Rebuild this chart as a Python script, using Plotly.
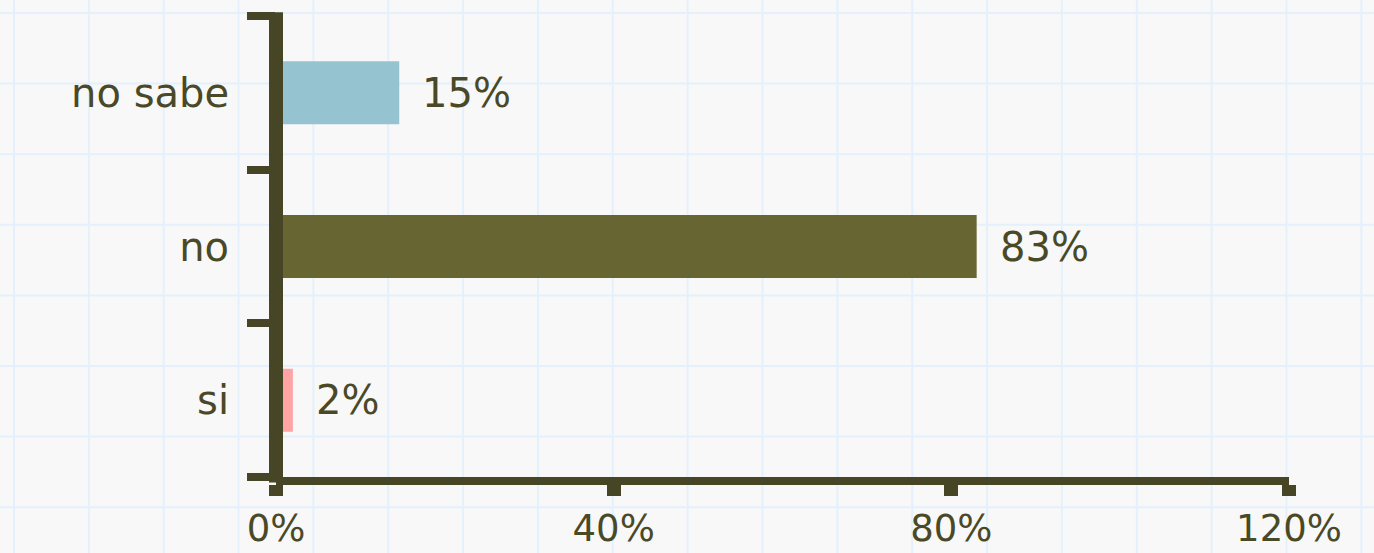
import plotly.graph_objects as go

# ---- data ----
categories = ["si", "no", "no sabe"]
values = [2, 83, 14.6]
bar_colors = ["#ffa4a4", "#676532", "#95c4d0"]
x_ticks = [0, 40, 80, 120]
x_tick_text = [f"{v}%" for v in x_ticks]

# ---- style ----
W, H = 1374, 553
L, R, T, B = 276, 85, 16, 76
INK = "#464525"
TXT = "#4a4927"
BG = "#f8f8f8"
FONT = "DejaVu Sans"
FS = 40

fig = go.Figure()
fig.add_trace(go.Bar(
    y=categories, x=values, orientation="h",
    marker=dict(color=bar_colors, line=dict(width=0)),
    width=0.41, hoverinfo="skip",
))

# value labels
for c, v in zip(categories, values):
    fig.add_annotation(x=v, y=c, xref="x", yref="y", text=f"{v:.0f}%",
                       showarrow=False, xanchor="left", xshift=21,
                       font=dict(family=FONT, size=FS, color=TXT))

# graph-paper background
pw, ph = W - L - R, H - T - B
shapes = []
gx = 14.0
while gx < W:
    shapes.append(dict(type="line", xref="paper", yref="paper",
                       x0=(gx - L) / pw, x1=(gx - L) / pw,
                       y0=(H - B) / ph, y1=(H - B - H) / ph,
                       line=dict(color="#e4f1fc", width=2), layer="below"))
    gx += 74.85
gy = 13.0
while gy < H:
    shapes.append(dict(type="line", xref="paper", yref="paper",
                       x0=(0 - L) / pw, x1=(W - L) / pw,
                       y0=(H - B - gy) / ph, y1=(H - B - gy) / ph,
                       line=dict(color="#e4f1fc", width=2), layer="below"))
    gy += 70.6
# y axis line centred on the left edge (x = 0)
shapes.append(dict(type="line", xref="paper", yref="paper", x0=0, x1=0,
                   y0=-0.012, y1=1.008, line=dict(color=INK, width=14), layer="above"))

fig.update_layout(
    width=W, height=H,
    margin=dict(l=L, r=R, t=T, b=B, autoexpand=False),
    paper_bgcolor=BG, plot_bgcolor="rgba(0,0,0,0)",
    showlegend=False, shapes=shapes,
    font=dict(family=FONT, size=FS, color=TXT),
    xaxis=dict(range=[0, 120], tickmode="array", tickvals=x_ticks, ticktext=x_tick_text,
               showgrid=False, zeroline=False, automargin=False,
               showline=True, linewidth=8, linecolor=INK,
               ticks="outside", ticklen=11, tickwidth=14, tickcolor=INK,
               ticklabelstandoff=1, layer="above traces",
               tickfont=dict(family=FONT, size=37, color=TXT)),
    yaxis=dict(range=[-0.5, 2.5], type="category", showgrid=False, zeroline=False,
               showline=False, ticks="outside", tickson="boundaries", automargin=False,
               ticklen=28, tickwidth=8, tickcolor=INK, ticklabelstandoff=46,
               tickfont=dict(family=FONT, size=FS, color=TXT)),
)

fig.write_html(
    "out.html",
    config={"displayModeBar": False},
    post_script=f"document.body.style.margin='0';document.body.style.background='{BG}';",
)
